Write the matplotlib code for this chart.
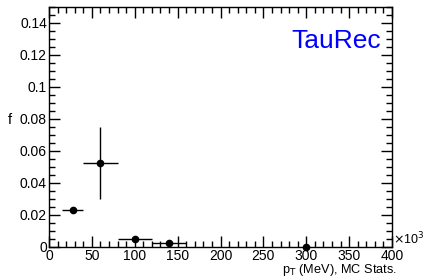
import matplotlib
matplotlib.use("Agg")
import matplotlib.pyplot as plt
from matplotlib.ticker import MultipleLocator, FuncFormatter

# data (x in units of 10^3 MeV)
x_centers = [27.5, 60, 100, 140, 300]
x_err = [12.5, 20, 20, 20, 0]
f_values = [0.0231, 0.0523, 0.0052, 0.0027, 0.0]
f_err = [0.0018, 0.0225, 0.0012, 0.0012, 0.0]
x_ticks = [0, 50, 100, 150, 200, 250, 300, 350, 400]
y_ticks = [0, 0.02, 0.04, 0.06, 0.08, 0.1, 0.12, 0.14]

plt.rcParams['font.family'] = ['Liberation Sans', 'DejaVu Sans']

fig = plt.figure(figsize=(4.23, 2.80), dpi=100)
ax = fig.add_axes([49/423, 1-247/280, (392-49)/423, (247-7)/280])

ax.errorbar(x_centers, f_values, xerr=x_err, yerr=f_err, fmt='o', color='black',
            ms=4.5, elinewidth=1, capsize=0, clip_on=False, zorder=3)

ax.set_xlim(0, 400)
ax.set_ylim(0, 0.15)
ax.set_xticks(x_ticks)
ax.set_yticks(y_ticks)
ax.xaxis.set_minor_locator(MultipleLocator(10))
ax.yaxis.set_minor_locator(MultipleLocator(0.005))

def yfmt(v, p):
    if abs(v) < 1e-9:
        return "0"
    return ("%.2f" % v).rstrip('0')
ax.yaxis.set_major_formatter(FuncFormatter(yfmt))

ax.tick_params(which='both', direction='in', top=True, right=True, labelsize=10, width=1, pad=1.5)
ax.tick_params(which='major', length=8)
ax.tick_params(which='minor', length=4)
for s in ax.spines.values():
    s.set_linewidth(1)

ax.text((381-49)/343, (247-41)/240, "TauRec", transform=ax.transAxes, color='#0000ff', fontsize=19,
        ha='right', va='center')

fig.text(397/423, 1-270/280, r"p$_{\mathrm{T}}$ (MeV), MC Stats.", ha='right', va='center', fontsize=9.2)
fig.text(10/423, 1-120/280, "f", ha='center', va='center', fontsize=10.5)
fig.text(393/423, 1-239/280, r"$\times$10$^{3}$", ha='left', va='center', fontsize=9)

fig.savefig("out.png", dpi=100)
